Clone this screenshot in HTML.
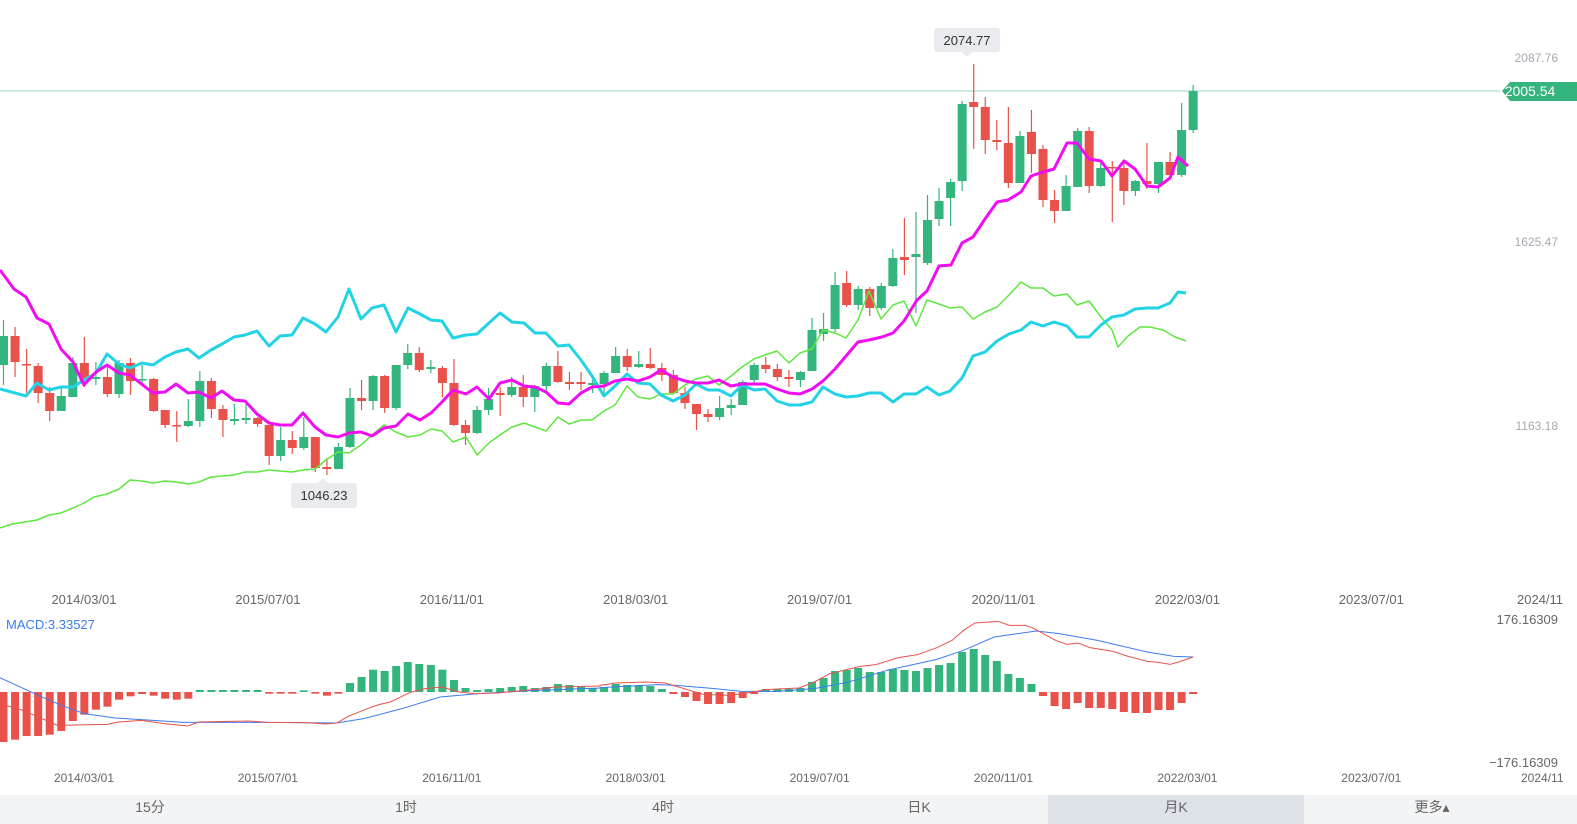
<!DOCTYPE html>
<html><head><meta charset="utf-8"><style>
html,body{margin:0;padding:0;background:#fff;width:1577px;height:824px;overflow:hidden;font-family:"Liberation Sans","Noto Sans CJK SC",sans-serif;}
svg{display:block}
</style></head><body>
<svg id="s" width="1577" height="824" xmlns="http://www.w3.org/2000/svg" font-family="Liberation Sans, Noto Sans CJK SC, sans-serif">
<line x1="0" y1="91" x2="1500" y2="91" stroke="#9fd6bf" stroke-width="1"/>
<g id="cd"></g>
<g id="ln"></g>
<g id="mc"></g>
<text x="1558" y="62" fill="#a8a8b0" font-size="12" text-anchor="end">2087.76</text>
<text x="1558" y="246" fill="#a8a8b0" font-size="12" text-anchor="end">1625.47</text>
<text x="1558" y="430" fill="#a8a8b0" font-size="12" text-anchor="end">1163.18</text>
<path d="M1502,91 L1510,82 L1577,82 L1577,101 L1510,101 Z" fill="#35b57e"/>
<text x="1530" y="96" fill="#fff" font-size="14" text-anchor="middle">2005.54</text>
<rect x="934" y="28" width="66" height="24" rx="3" fill="#e9ebee"/>
<path d="M962,52 L967,57 L972,52Z" fill="#e9ebee"/>
<text x="967" y="45" fill="#333" font-size="13" text-anchor="middle">2074.77</text>
<rect x="291" y="483" width="66" height="25" rx="3" fill="#e9ebee"/>
<path d="M318,483 L323,478 L328,483Z" fill="#e9ebee"/>
<text x="324" y="500" fill="#333" font-size="13" text-anchor="middle">1046.23</text>
<g id="xl" fill="#666" font-size="13" text-anchor="middle"></g>
<text x="6" y="629" fill="#3b7bf0" font-size="13">MACD:3.33527</text>
<text x="1558" y="624" fill="#666" font-size="13" text-anchor="end">176.16309</text>
<text x="1558" y="767" fill="#666" font-size="13" text-anchor="end">−176.16309</text>
<g id="xl2" fill="#666" font-size="12" text-anchor="middle"></g>
<rect x="0" y="795" width="1577" height="29" fill="#f3f4f6"/>
<rect x="1048" y="795" width="256" height="29" fill="#dde1e8"/>
<g fill="#666" font-size="14" text-anchor="middle">
<text x="150" y="812">15分</text><text x="406" y="812">1时</text><text x="663" y="812">4时</text><text x="919" y="812">日K</text><text x="1176" y="812">月K</text><text x="1432" y="812">更多▴</text>
</g>
</svg>
<script>
var NS="http://www.w3.org/2000/svg";
function el(p,t,a){var e=document.createElementNS(NS,t);for(var k in a)e.setAttribute(k,a[k]);p.appendChild(e);return e;}
var G="#35b57e",R="#e8524a";
var C=[
["g",336,365,320,385],["r",336,362,327,377],["r",364,365,349,393],["r",366,393,363,403],["r",393,411,387,421],
["g",396,411,387,411],["g",363,397,357,397],["r",363,381,337,387],["g",377,379,362,385],["r",377,394,367,397],
["g",363,394,360,398],["r",363,381,358,395],["g",379,380,365,385],["r",379,411,378,412],["r",410,425,410,428],
["r",425,426,411,442],["g",421,426,399,427],["g",381,421,371,427],["r",381,409,378,418],["r",409,420,405,437],
["g",419,421,404,425],["g",418,420,404,424],["r",418,424,417,427],["r",425,456,425,465],["g",440,456,427,461],
["r",440,448,431,454],["g",437,448,417,450],["r",437,468,437,472],["r",467,469,458,475],["g",447,469,443,469],
["g",398,447,388,448],["r",398,401,380,410],["g",376,401,375,410],["r",376,408,375,413],["g",365,408,365,410],
["g",353,365,344,369],["r",353,370,347,372],["g",367,369,360,373],["r",368,383,366,397],["r",383,425,359,426],
["r",425,433,420,445],["g",410,433,406,434],["g",399,410,388,415],["r",393,395,387,416],["g",387,395,377,397],
["r",387,397,375,407],["g",386,397,385,412],["g",366,386,363,393],["r",366,382,351,383],["r",382,384,372,390],
["r",382,384,372,390],["g",383,385,380,393],["g",373,384,371,397],["g",356,373,347,373],["r",356,367,349,371],
["g",364,367,351,368],["r",364,368,348,369],["r",368,375,363,381],["r",375,393,370,393],["r",393,403,387,409],
["r",404,414,404,430],["r",414,417,409,422],["g",408,417,396,420],["g",405,408,399,415],["g",382,405,380,405],
["g",365,380,363,383],["r",365,369,357,373],["r",369,377,364,381],["r",377,379,370,387],["g",372,380,371,387],
["g",330,371,318,371],["g",329,334,313,341],["g",285,329,272,332],["r",283,305,271,307],["g",289,305,286,310],
["r",289,308,287,316],["g",286,308,283,310],["g",258,286,249,287],["r",257,260,218,275],["g",254,257,212,313],
["g",220,263,195,265],["g",201,219,188,226],["g",182,198,179,226],["g",104,181,101,191],["r",102,107,64,149],
["r",107,140,97,154],["r",140,142,120,150],["r",143,183,107,188],["g",136,183,131,183],["r",132,154,110,173],
["r",149,200,145,207],["r",200,211,190,223],["g",186,211,175,211],["g",131,187,128,187],["r",131,186,127,193],
["g",168,186,163,187],["r",167,168,161,222],["r",168,191,160,205],["g",181,191,180,196],["r",181,184,143,189],
["g",162,184,162,193],["r",162,175,152,175],["g",130,175,103,177],["g",91,130,85,133]];
function X(i){return 3.5+11.55*i;}
var cd=document.getElementById("cd");
C.forEach(function(c,i){var x=X(i),col=c[0]=="g"?G:R;
el(cd,"line",{x1:x,x2:x,y1:c[3],y2:c[4],stroke:col,"stroke-width":1.2});
el(cd,"rect",{x:x-4.5,y:c[1],width:9,height:Math.max(1.5,c[2]-c[1]),fill:col});});
var ln=document.getElementById("ln");
function pl(pts,col,w){el(ln,"polyline",{points:pts.map(function(p){return p.join(",")}).join(" "),fill:"none",stroke:col,"stroke-width":w,"stroke-linejoin":"round"});}
pl([[0,528],[12,524],[25,522],[37,520],[49,515],[61,513],[73,508],[84,503],[94,497],[107,494],[119,489],[130,480],[142,481],[153,483],[165,481],[176,482],[188,484],[199,482],[211,477],[222,476],[234,475],[245,472],[257,472],[269,470],[280,471],[292,472],[303,470],[315,469],[326,460],[338,452],[349,453],[361,445],[372,435],[384,425],[396,432],[408,437],[420,435],[431,429],[442,431],[453,442],[466,437],[477,455],[489,443],[500,435],[512,427],[524,423],[535,427],[546,431],[558,417],[569,424],[581,420],[592,420],[604,411],[615,405],[627,386],[638,397],[650,399],[661,394],[673,394],[685,385],[696,379],[708,376],[719,385],[731,376],[742,367],[754,359],[765,355],[777,351],[789,363],[800,353],[812,349],[823,330],[835,333],[846,338],[858,320],[869,291],[881,319],[893,305],[904,301],[916,326],[927,300],[939,304],[950,308],[962,307],[973,319],[985,312],[997,307],[1009,295],[1021,282],[1031,288],[1043,288],[1054,296],[1067,294],[1077,305],[1089,301],[1101,317],[1112,330],[1118,347],[1128,336],[1140,327],[1150,327],[1163,330],[1175,337],[1186,341]],"#5ee83f",1.5);
pl([[0,389],[26,396],[37,383],[49,390],[61,387],[73,387],[84,380],[96,373],[107,354],[119,364],[130,368],[142,363],[153,365],[165,357],[176,352],[188,349],[199,358],[211,350],[222,344],[234,337],[245,335],[257,331],[269,346],[280,336],[292,335],[303,318],[315,324],[326,332],[338,317],[349,289],[361,319],[372,308],[384,305],[396,332],[408,308],[420,314],[431,320],[442,321],[453,338],[466,335],[477,334],[489,323],[500,313],[512,322],[524,323],[535,333],[546,333],[558,346],[569,345],[581,360],[592,376],[604,396],[615,386],[627,374],[638,383],[650,384],[661,395],[673,401],[685,395],[696,384],[708,390],[719,390],[731,396],[742,385],[754,390],[765,389],[777,401],[789,405],[800,405],[812,402],[823,387],[835,394],[846,397],[858,396],[869,393],[881,393],[893,402],[904,394],[916,394],[927,387],[939,395],[950,391],[962,378],[973,356],[985,352],[997,341],[1009,334],[1021,330],[1031,322],[1043,326],[1054,322],[1067,326],[1077,337],[1089,337],[1101,325],[1112,317],[1124,315],[1135,309],[1147,308],[1158,308],[1170,303],[1178,292],[1186,293]],"#22d3e6",3);
pl([[0,270],[14,289],[26,297],[37,318],[49,324],[61,349],[73,362],[84,385],[96,372],[107,365],[119,373],[130,375],[153,393],[165,392],[176,384],[188,393],[199,392],[211,398],[222,391],[234,400],[245,401],[257,414],[269,423],[280,425],[292,425],[303,413],[315,427],[326,435],[338,437],[349,433],[361,432],[372,436],[384,428],[396,426],[408,414],[420,420],[431,413],[442,402],[453,390],[466,394],[477,387],[489,399],[500,383],[512,380],[524,386],[535,387],[546,392],[558,403],[569,404],[581,393],[592,387],[604,386],[615,381],[627,379],[638,381],[650,377],[661,370],[673,377],[685,381],[696,383],[708,383],[719,380],[731,386],[742,384],[754,384],[765,384],[777,389],[789,393],[800,394],[812,389],[823,381],[835,369],[846,356],[858,342],[869,340],[882,337],[893,333],[904,321],[917,300],[927,291],[939,266],[951,265],[962,243],[973,237],[985,219],[997,202],[1008,200],[1021,192],[1031,176],[1043,172],[1054,169],[1067,143],[1077,143],[1089,159],[1101,161],[1112,176],[1124,161],[1135,169],[1147,186],[1158,187],[1170,178],[1178,157],[1188,166]],"#f20cf2",3);
// MACD
var M=[405,398,387,387,383,372,342,323,308,299,278,268,261,266,275,278,275,249,249,249,249,249,249,260,260,260,250,260,266,260,228,210,188,192,177,165,171,174,188,219,243,249,246,243,240,237,243,240,231,234,237,243,
240,231,234,234,237,246,261,270,282,291,291,288,273,261,246,246,246,243,225,213,192,189,183,195,195,186,189,192,183,174,168,135,126,144,162,201,213,231,267,297,306,288,303,303,306,315,318,318,309,309,288,261];
var mc=document.getElementById("mc");var Z=692;
function Y(v){return Z+(v-255)/3;}
M.forEach(function(v,i){var y=Y(v),x=X(i);var up=v<255;el(mc,"rect",{x:x-4,y:Math.min(y,Z),width:8,height:Math.max(1.5,Math.abs(y-Z)),fill:up?G:R});});
function mp(a,col){el(mc,"polyline",{points:a.map(function(p){return p[0]+","+Y(p[1])}).join(" "),fill:"none",stroke:col,"stroke-width":1});}
var b1=[[0,212],[100,265],[160,295],[220,320],[300,333],[400,340],[480,346],[600,346],[700,346],[880,348],[950,335],[1050,305],[1150,270],[1250,260],[1400,250],[1568,243]].map(function(p){return [p[0]/2.613,p[1]]});
var b2=[[0,242],[150,233],[200,235],[300,245],[370,253],[460,253],[560,245],[650,225],[750,190],[880,157],[950,130],[1030,90],[1140,72],[1200,80],[1300,100],[1430,135],[1500,148],[1550,150]].map(function(p){return [600+p[0]/2.613,p[1]]});
var r1=[[0,290],[60,310],[150,355],[280,352],[310,345],[370,340],[430,350],[490,357],[520,345],[650,342],[700,346],[800,347],[850,351],[880,348],[910,328],[960,305],[990,293],[1020,285],[1070,257],[1110,245],[1155,240],[1200,255],[1240,260],[1300,258],[1400,247],[1450,240],[1568,237]].map(function(p){return [p[0]/2.613,p[1]]});
var r2=[[0,235],[40,228],[120,225],[170,228],[270,262],[340,265],[400,255],[430,248],[520,243],[560,225],[600,200],[680,178],[720,173],[780,152],[830,143],[880,122],[920,100],[950,70],[980,48],[1040,43],[1070,55],[1110,55],[1130,62],[1190,100],[1220,112],[1250,108],[1280,122],[1340,133],[1380,148],[1430,163],[1460,166],[1490,172],[1520,162],[1550,150]].map(function(p){return [600+p[0]/2.613,p[1]]});
mp(b1.concat(b2),"#3b7bf0");mp(r1.concat(r2),"#e8524a");
var L=["2014/03/01","2015/07/01","2016/11/01","2018/03/01","2019/07/01","2020/11/01","2022/03/01","2023/07/01"];
var xl=document.getElementById("xl"),xl2=document.getElementById("xl2");
L.forEach(function(t,i){var x=84+183.9*i;el(xl,"text",{x:x,y:604}).textContent=t;el(xl2,"text",{x:x,y:782}).textContent=t;});
el(xl,"text",{x:1517,y:604,"text-anchor":"start"}).textContent="2024/11";
el(xl2,"text",{x:1521,y:782,"text-anchor":"start"}).textContent="2024/11";
</script>
</body></html>
